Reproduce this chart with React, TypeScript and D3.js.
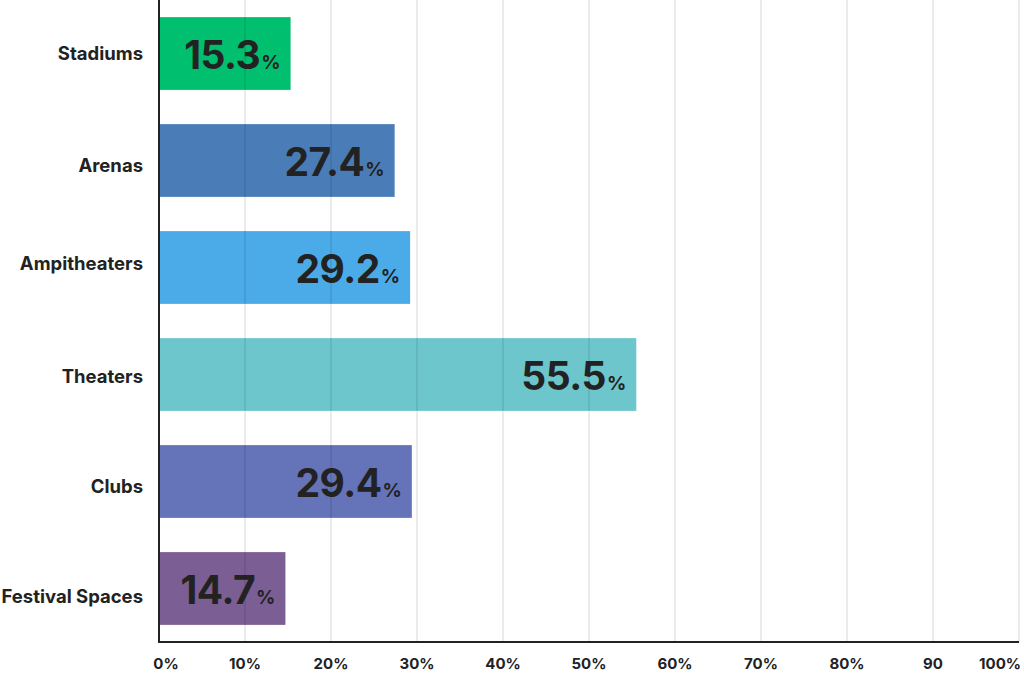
import React from "react";
import * as d3 from "d3";

const categories = ["Stadiums", "Arenas", "Ampitheaters", "Theaters", "Clubs", "Festival Spaces"];
const values = [15.3, 27.4, 29.2, 55.5, 29.4, 14.7];
const colors = ["#00BF6F", "#4A7DB7", "#4BABE9", "#6CC6CC", "#6574B8", "#7B5E93"];
const tickValues = [0, 10, 20, 30, 40, 50, 60, 70, 80, 90, 100];
const tickLabels = ["0%", "10%", "20%", "30%", "40%", "50%", "60%", "70%", "80%", "90", "100%"];
const labelNudge = [0, 5, -4, 2, 5, 8];

const W = 1024;
const H = 673;
const FONT = "Inter, 'Noto Sans', sans-serif";

export default function App() {
  const x = d3.scaleLinear().domain([0, 100]).range([159, 1019]);
  const y = d3.scaleBand<string>().domain(categories).range([0, 642]).paddingInner(0.32).paddingOuter(0.16);
  const axisY = 642;

  return (
    <svg width={W} height={H} style={{ position: "absolute", left: 0, top: 0, background: "#fff" }}>
      {categories.map((c, i) => (
        <rect key={c} x={x(0)} y={y(c)} width={x(values[i]) - x(0)} height={y.bandwidth()} fill={colors[i]} />
      ))}
      {tickValues.slice(1).map((t) => (
        <line key={t} x1={x(t)} x2={x(t)} y1={0} y2={axisY} stroke="#000" strokeOpacity={0.08} strokeWidth={2} />
      ))}
      <line x1={x(0)} x2={x(0)} y1={0} y2={axisY} stroke="#222" strokeWidth={2} />
      <line x1={x(0) - 1} x2={x(100)} y1={axisY} y2={axisY} stroke="#222" strokeWidth={2} />
      {categories.map((c, i) => {
        const cy = (y(c) as number) + y.bandwidth() / 2;
        return (
          <g key={c}>
            <text x={143} y={cy + 6 + labelNudge[i]} textAnchor="end" fontFamily={FONT} fontWeight={700} fontSize={18.5} fill="#222">
              {c}
            </text>
            <text x={x(values[i]) - 10} y={cy + 15} textAnchor="end" fontFamily={FONT} fontWeight={700} fill="#222" letterSpacing={-0.5}>
              <tspan fontSize={39}>{values[i].toFixed(1)}</tspan>
              <tspan fontSize={19} dx={1} letterSpacing={0}>%</tspan>
            </text>
          </g>
        );
      })}
      {tickValues.map((t, i) => (
        <text
          key={t}
          x={t === 100 ? x(t) + 2 : x(t) + (t === 0 ? 7 : 0)}
          y={669}
          textAnchor={t === 100 ? "end" : "middle"}
          fontFamily={FONT}
          fontWeight={700}
          fontSize={15}
          fill="#222"
        >
          {tickLabels[i]}
        </text>
      ))}
    </svg>
  );
}
